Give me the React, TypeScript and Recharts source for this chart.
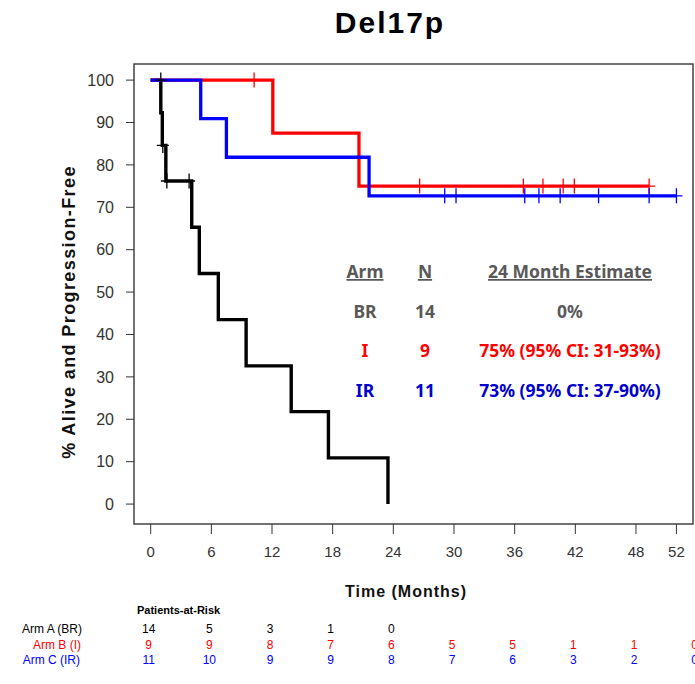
import React from "react";
import { ComposedChart, Line, Scatter, XAxis, YAxis, ReferenceArea, ReferenceDot } from "recharts";

// Kaplan-Meier steps (months, % alive and progression-free)
const brTimes = [0, 1.0, 1.15, 1.5, 4.06, 4.81, 6.69, 9.44, 13.9, 17.58, 23.47];
const brSurv = [100, 92.3, 84.6, 76.2, 65.3, 54.4, 43.5, 32.6, 21.8, 10.9, 0];
const iTimes = [0, 12.08, 20.6, 49.3];
const iSurv = [100, 87.5, 75, 75];
const irTimes = [0, 4.95, 7.49, 21.6, 52.0];
const irSurv = [100, 90.9, 81.8, 72.7, 72.7];

// censored observations
const brCensorTimes = [1.0, 1.2, 1.6, 3.8];
const brCensorSurv = [100, 84.6, 76.2, 76.2];
const iCensorTimes = [10.23, 26.6, 36.86, 38.8, 40.8, 41.9, 49.3];
const iCensorSurv = [100, 75, 75, 75, 75, 75, 75];
const irCensorTimes = [29.08, 30.2, 37.0, 38.4, 40.5, 44.3, 49.3, 52.0];
const irCensorSurv = [72.7, 72.7, 72.7, 72.7, 72.7, 72.7, 72.7, 72.7];

// patients at risk every 6 months
const riskTimes = [0, 6, 12, 18, 24, 30, 36, 42, 48, 54];
const riskBR = [14, 5, 3, 1, 0];
const riskI = [9, 9, 8, 7, 6, 5, 5, 1, 1, 0];
const riskIR = [11, 10, 9, 9, 8, 7, 6, 3, 2, 0];

const xTicks = [0, 6, 12, 18, 24, 30, 36, 42, 48, 52];
const yTicks = [0, 10, 20, 30, 40, 50, 60, 70, 80, 90, 100];

const xDomain = [-1.65, 53.64];
const yDomain = [-4.7, 103.8];

const RED = "#ff0000";
const BLUE = "#0000ff";
const GRAY = "#595959";

const toPoints = (ts: number[], ss: number[]) => ts.map((t, i) => ({ t, s: ss[i] }));

const plusMark = (color: string) => (props: any) => {
  const { cx, cy } = props;
  return (
    <path
      d={`M${cx - 6},${cy}H${cx + 6}M${cx},${cy - 7.5}V${cy + 7.5}`}
      stroke={color}
      strokeWidth={1.3}
      fill="none"
    />
  );
};

const riskRows = [
  { counts: riskBR, color: "#000", baseline: 633 },
  { counts: riskI, color: RED, baseline: 648.5 },
  { counts: riskIR, color: BLUE, baseline: 664 },
];

const sans = "'Liberation Sans', Arial, sans-serif";
const legendFont = "'Noto Sans', sans-serif";

export default function App() {
  return (
    <div style={{ position: "absolute", left: 0, top: 0, width: 695, height: 684 }}>
      <ComposedChart width={695} height={684} margin={{ top: 64, right: 2, bottom: 110, left: 74 }}>
        <XAxis
          type="number"
          dataKey="t"
          domain={xDomain}
          allowDataOverflow
          ticks={xTicks}
          interval={0}
          height={50}
          axisLine={false}
          tickSize={10}
          tickMargin={12}
          tickLine={{ stroke: "#333" }}
          tick={{ fill: "#333", fontSize: 15, fontFamily: sans }}
        />
        <YAxis
          type="number"
          domain={yDomain}
          allowDataOverflow
          ticks={yTicks}
          interval={0}
          width={60}
          axisLine={false}
          tickSize={8}
          tickMargin={12}
          tickLine={{ stroke: "#333" }}
          tick={{ fill: "#333", fontSize: 16, fontFamily: sans }}
        />
        <ReferenceArea
          x1={xDomain[0]}
          x2={xDomain[1]}
          y1={yDomain[0]}
          y2={yDomain[1]}
          fill="none"
          stroke="#444"
          strokeWidth={1.5}
          ifOverflow="visible"
        />
        <Line data={toPoints(brTimes, brSurv)} dataKey="s" type="stepAfter" stroke="#000" strokeWidth={3.4} dot={false} isAnimationActive={false} />
        <Line data={toPoints(iTimes, iSurv)} dataKey="s" type="stepAfter" stroke={RED} strokeWidth={3.3} dot={false} isAnimationActive={false} />
        <Line data={toPoints(irTimes, irSurv)} dataKey="s" type="stepAfter" stroke={BLUE} strokeWidth={3.3} dot={false} isAnimationActive={false} />
        <Scatter data={toPoints(brCensorTimes, brCensorSurv)} dataKey="s" shape={plusMark("#000")} isAnimationActive={false} />
        <Scatter data={toPoints(iCensorTimes, iCensorSurv)} dataKey="s" shape={plusMark(RED)} isAnimationActive={false} />
        <Scatter data={toPoints(irCensorTimes, irCensorSurv)} dataKey="s" shape={plusMark(BLUE)} isAnimationActive={false} />
        {riskRows.map((row, r) =>
          row.counts.map((n, i) => (
            <ReferenceDot
              key={`risk-${r}-${i}`}
              x={riskTimes[i]}
              y={0}
              ifOverflow="visible"
              shape={(p: any) => (
                <text x={p.cx - 2} y={row.baseline} textAnchor="middle" fontSize={12} fontFamily={sans} fill={row.color}>
                  {n}
                </text>
              )}
            />
          ))
        )}
      </ComposedChart>

      <svg width={695} height={684} style={{ position: "absolute", left: 0, top: 0, pointerEvents: "none" }}>
        <text x={390} y={33} textAnchor="middle" fontFamily={sans} fontWeight="bold" fontSize={30} letterSpacing={2} fill="#000">
          Del17p
        </text>
        <text
          transform="translate(75,312) rotate(-90)"
          textAnchor="middle"
          fontFamily={sans}
          fontWeight="bold"
          fontSize={18}
          letterSpacing={1.4}
          fill="#111"
        >
          % Alive and Progression-Free
        </text>
        <text x={406} y={597} textAnchor="middle" fontFamily={sans} fontWeight="bold" fontSize={16} letterSpacing={1} fill="#111">
          Time (Months)
        </text>

        {/* 24 month estimates */}
        <g fontFamily={legendFont} fontWeight="bold" fontSize={17.5} textAnchor="middle">
          <text x={365} y={278} fill={GRAY} textDecoration="underline">Arm</text>
          <text x={425} y={278} fill={GRAY} textDecoration="underline">N</text>
          <text x={570} y={278} fill={GRAY} textDecoration="underline">24 Month Estimate</text>
          <text x={365} y={318} fill={GRAY}>BR</text>
          <text x={425} y={318} fill={GRAY}>14</text>
          <text x={570} y={318} fill={GRAY}>0%</text>
          <text x={365} y={357} fill={RED}>I</text>
          <text x={425} y={357} fill={RED}>9</text>
          <text x={570} y={357} fill={RED}>75% (95% CI: 31-93%)</text>
          <text x={365} y={397} fill="#0000cc">IR</text>
          <text x={425} y={397} fill="#0000cc">11</text>
          <text x={570} y={397} fill="#0000cc">73% (95% CI: 37-90%)</text>
        </g>

        {/* patients-at-risk row labels */}
        <text x={137} y={614} fontFamily={sans} fontWeight="bold" fontSize={11} fill="#000">
          Patients-at-Risk
        </text>
        <g fontFamily={sans} fontSize={12} textAnchor="end">
          <text x={82} y={633} fill="#000">Arm A (BR)</text>
          <text x={81} y={648.5} fill={RED}>Arm B (I)</text>
          <text x={80} y={664} fill={BLUE}>Arm C (IR)</text>
        </g>
      </svg>
    </div>
  );
}
